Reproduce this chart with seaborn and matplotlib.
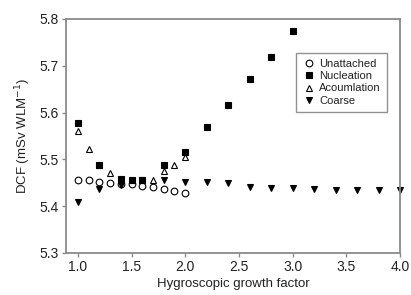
import matplotlib
matplotlib.use("Agg")
import matplotlib.pyplot as plt
import seaborn as sns
import pandas as pd

# Data
unatt_x = [1.0, 1.1, 1.2, 1.3, 1.4, 1.5, 1.6, 1.7, 1.8, 1.9, 2.0]
unatt_y = [5.457, 5.455, 5.451, 5.450, 5.448, 5.447, 5.443, 5.440, 5.437, 5.433, 5.429]

nucl_x = [1.0, 1.2, 1.4, 1.5, 1.6, 1.8, 2.0, 2.2, 2.4, 2.6, 2.8, 3.0]
nucl_y = [5.577, 5.488, 5.458, 5.457, 5.457, 5.488, 5.515, 5.570, 5.616, 5.672, 5.719, 5.775]

accum_x = [1.0, 1.1, 1.2, 1.3, 1.4, 1.5, 1.6, 1.7, 1.8, 1.9, 2.0]
accum_y = [5.561, 5.522, 5.488, 5.470, 5.458, 5.457, 5.457, 5.457, 5.475, 5.488, 5.506]

coarse_x = [1.0, 1.2, 1.4, 1.6, 1.8, 2.0, 2.2, 2.4, 2.6, 2.8, 3.0, 3.2, 3.4, 3.6, 3.8, 4.0]
coarse_y = [5.410, 5.437, 5.445, 5.455, 5.457, 5.452, 5.452, 5.450, 5.440, 5.438, 5.438,
            5.436, 5.435, 5.435, 5.435, 5.435]

series_names = ["Unattached", "Nucleation", "Acoumlation", "Coarse"]
x_ticks = [1.0, 1.5, 2.0, 2.5, 3.0, 3.5, 4.0]
y_ticks = [5.3, 5.4, 5.5, 5.6, 5.7, 5.8]

sns.set_style("white")
plt.rcParams["font.family"] = ["Liberation Sans", "DejaVu Sans"]

fig = plt.figure(figsize=(4.11, 2.95), dpi=100)
ax = fig.add_axes([66 / 411, 42 / 295, 334 / 411, 234 / 295])

styles = [
    (unatt_x, unatt_y, "o", "none"),
    (nucl_x, nucl_y, "s", "black"),
    (accum_x, accum_y, "^", "none"),
    (coarse_x, coarse_y, "v", "black"),
]
for (xs, ys, m, fc), name in zip(styles, series_names):
    df = pd.DataFrame({"x": xs, "y": ys})
    sns.lineplot(data=df, x="x", y="y", ax=ax, linestyle="", marker=m,
                 markersize=4.8, markerfacecolor=fc, markeredgecolor="black",
                 markeredgewidth=0.8, color="black", label=name, clip_on=False)

ax.set_xlim(0.89, 4.0)
ax.set_ylim(5.3, 5.8)
ax.set_xticks(x_ticks)
ax.set_xticklabels([f"{v:.1f}" for v in x_ticks])
ax.set_yticks(y_ticks)
ax.set_yticklabels([f"{v:.1f}" for v in y_ticks])

for s in ax.spines.values():
    s.set_color("#8a8a8a")
    s.set_linewidth(1.3)
ax.tick_params(axis="both", which="major", bottom=True, left=True, direction="out",
               length=3, width=1, color="#8a8a8a",
               labelsize=10, labelcolor="#222222", pad=2)

ax.set_xlabel("Hygroscopic growth factor", fontsize=9.5, color="#222222", labelpad=3)
ax.set_ylabel("DCF (mSv WLM$^{-1}$)", fontsize=9.5, color="#222222", labelpad=5)

leg = ax.legend(loc="upper right", bbox_to_anchor=(0.961, 0.855), borderaxespad=0,
                fontsize=8, frameon=True, fancybox=False, handletextpad=0.3,
                handlelength=1.2, borderpad=0.55, labelspacing=0.2)
leg.get_frame().set_edgecolor("#777777")
leg.get_frame().set_linewidth(1.0)
for t in leg.get_texts():
    t.set_color("#222222")

fig.savefig("out.png", dpi=100)
